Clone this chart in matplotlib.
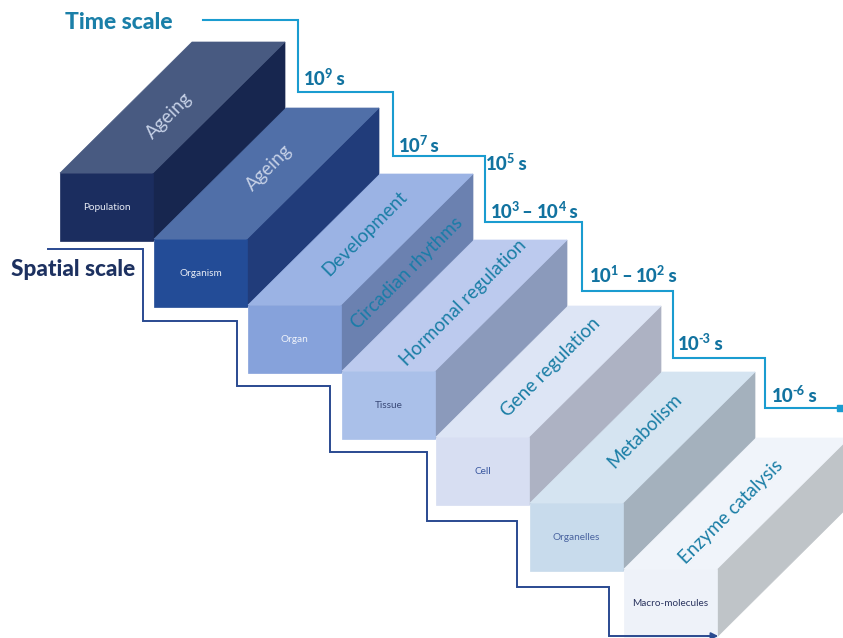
import matplotlib
matplotlib.use("Agg")
import matplotlib.pyplot as plt
from matplotlib.patches import Polygon

plt.rcParams["font.family"] = ["Lato", "DejaVu Sans"]

# spatial levels (front faces), processes (top faces), time scales
spatial_levels = ["Population", "Organism", "Organ", "Tissue", "Cell",
                  "Organelles", "Macro-molecules"]
processes = ["Ageing", "Ageing", "Development", "Hormonal regulation",
             "Gene regulation", "Metabolism", "Enzyme catalysis"]
side_process = ("Circadian rhythms", 2)  # written on the side of box 3
time_exponents = [["9"], ["7"], ["5"], ["3", "4"], ["1", "2"], ["-3"], ["-6"]]

# colours per box: front, top, side
front_cols = ["#1b2d5f", "#234c97", "#86a2db", "#aac0e9", "#d7def2", "#c8dbec", "#eef2f9"]
top_cols = ["#485a81", "#506fa8", "#9bb3e4", "#bccaee", "#dde5f5", "#d5e4f1", "#f0f4fa"]
side_cols = ["#17264f", "#213c7a", "#6b81b0", "#8b9abb", "#adb2c3", "#a4b1bd", "#bfc4c8"]
front_txt = ["#e8ecf5", "#e8ecf5", "#eef2fa", "#3a4a78", "#3a58a0", "#4a64a0", "#2b3560"]
top_txt = ["#c5d0e6", "#c5d0e6", "#1b7ea6", "#1b7ea6", "#1b7ea6", "#1b7ea6", "#1b7ea6"]
label_shift = [(-3, 8), (3, -6), (4, -6), (9, -3), (2, -4), (2, -7), (-5, 8)]

teal = "#1a9cd0"
teal_txt = "#1273a0"
navy = "#2a4a90"

# geometry of the staircase
x0, y0 = 60, 173
step_x, step_y = 94, 66
w, h = 93, 68
dx, dy = 132, -131

fig = plt.figure(figsize=(8.43, 6.38), dpi=100)
ax = fig.add_axes([0, 0, 1, 1])
ax.set_xlim(0, 843)
ax.set_ylim(638, 0)
ax.axis("off")
renderer = fig.canvas.get_renderer()

for i in range(len(spatial_levels)):
    x = x0 + i * step_x
    y = y0 + i * step_y
    side = [(x + w, y), (x + w, y + h), (x + w + dx, y + h + dy), (x + w + dx, y + dy)]
    top = [(x, y), (x + w, y), (x + w + dx, y + dy), (x + dx, y + dy)]
    front = [(x, y), (x + w, y), (x + w, y + h), (x, y + h)]
    for pts, c in [(side, side_cols[i]), (top, top_cols[i]), (front, front_cols[i])]:
        ax.add_patch(Polygon(pts, closed=True, facecolor=c, edgecolor=c, lw=0.5, zorder=2 + i))
    ax.text(x + w / 2, y + h / 2, spatial_levels[i], color=front_txt[i], fontsize=7.2,
            ha="center", va="center", zorder=20)
    ox, oy = label_shift[i]
    ax.text(x + w / 2 + dx / 2 + ox, y + dy / 2 + oy, processes[i], color=top_txt[i],
            fontsize=13.5, rotation=45, rotation_mode="anchor",
            ha="center", va="center", zorder=20)

name, k = side_process
sx = x0 + k * step_x + w + dx / 2
sy = y0 + k * step_y + h / 2 + dy / 2
ax.text(sx, sy, name, color="#1a7ca8", fontsize=13.5, rotation=45,
        rotation_mode="anchor", ha="center", va="center", zorder=20)

# time scale staircase line
tx = [203, 298, 298, 393, 393, 485, 485, 582, 582, 673, 673, 765, 765, 838]
ty = [20, 20, 92, 92, 156, 156, 222, 222, 291, 291, 358, 358, 408, 408]
ax.plot(tx, ty, color=teal, lw=1.5, zorder=25, solid_joinstyle="miter")
ax.plot([840], [408], marker="s", color=teal, ms=4, zorder=25)


def put(x, y, s, size):
    t = ax.text(x, y, s, color=teal_txt, fontsize=size, fontweight="black",
                ha="left", va="baseline", zorder=25)
    return x + t.get_window_extent(renderer).width


time_pos = [(304, 85), (399, 152), (486, 170), (491, 218), (590, 282), (678, 350), (772, 402)]
for (px, py), exps in zip(time_pos, time_exponents):
    cx = px
    for j, e in enumerate(exps):
        if j > 0:
            cx = put(cx, py, " – ", 13)
        cx = put(cx, py, "10", 13.5)
        cx = put(cx - 1.5, py - 7, e, 9)
    put(cx, py, " s", 13.5)

ax.text(65, 29, "Time scale", color="#1a7fa8", fontsize=16.5, fontweight="black",
        ha="left", va="baseline", zorder=25)

# spatial scale staircase line
px_ = [48, 143, 143, 237, 237, 330, 330, 427, 427, 517, 517, 609, 609, 712]
py_ = [249, 249, 321, 321, 386, 386, 452, 452, 521, 521, 587, 587, 636, 636]
ax.plot(px_, py_, color=navy, lw=1.4, zorder=25, solid_joinstyle="miter")
ax.annotate("", xy=(721, 636), xytext=(705, 636),
            arrowprops=dict(arrowstyle="-|>", color=navy, lw=1.4, mutation_scale=10), zorder=25)

ax.text(11, 276, "Spatial scale", color="#1d3160", fontsize=16.3, fontweight="black",
        ha="left", va="baseline", zorder=25)

fig.savefig("out.png", dpi=100)
